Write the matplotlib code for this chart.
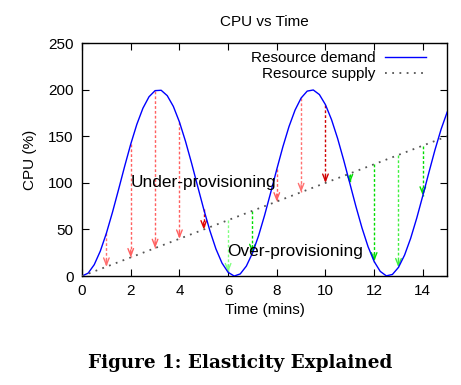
import matplotlib
matplotlib.use("Agg")
import matplotlib.pyplot as plt

time_fine = [i * 0.25 for i in range(61)]
demand = [0.0, 3.1, 12.2, 26.8, 46.0, 68.5, 92.9, 117.8, 141.6, 162.8,
          180.1, 192.4, 199.0, 199.4, 193.6, 182.1, 165.4, 144.6, 121.1, 96.2,
          71.6, 48.8, 29.1, 13.9, 4.0, 0.0, 2.3, 10.7, 24.6, 43.1,
          65.3, 89.6, 114.6, 138.7, 160.3, 178.1, 191.1, 198.5, 199.7, 194.8,
          183.9, 167.8, 147.6, 124.3, 99.6, 74.8, 51.7, 31.5, 15.6, 5.0,
          0.2, 1.7, 9.3, 22.5, 40.5, 62.2, 86.3, 111.2, 135.5, 157.5,
          176.0]

# supply line
time_supply = [0, 15]
supply = [0, 150]

# arrows at whole minutes: demand value and supply value
arrow_t = [1, 2, 3, 4, 5, 6, 7, 8, 9, 10, 11, 12, 13, 14]
arrow_demand = [46.0, 141.6, 199.0, 165.4, 71.6, 4.0, 24.6, 114.6, 191.1, 183.9,
                99.6, 15.6, 9.3, 86.3]
arrow_supply = [10, 20, 30, 40, 50, 60, 70, 80, 90, 100, 110, 120, 130, 140]
arrow_colors = ['#ff7070', '#ff6060', '#ff6060', '#ff6060', '#e00000',
                '#80ff80', '#00dd00', '#ff6060', '#ff7070', '#d00000',
                '#00dd00', '#00dd00', '#40f040', '#00dd00']

plt.rcParams['font.family'] = ['Liberation Sans', 'DejaVu Sans']

fig = plt.figure(figsize=(4.61, 3.85), dpi=100)
ax = fig.add_axes([0.178, 0.283, 0.792, 0.605])

# arrows: from demand to supply (under) or supply to demand (over)
for t, d, s, c in zip(arrow_t, arrow_demand, arrow_supply, arrow_colors):
    top = max(d, s)
    bottom = min(d, s)
    ax.plot([t, t], [top, bottom], color=c, lw=1, linestyle=(0, (2, 1.5)), zorder=2)
    ax.annotate('', xy=(t, bottom), xytext=(t, bottom + 8),
                arrowprops=dict(arrowstyle='->, head_width=0.2, head_length=0.5',
                                color=c, lw=1, shrinkA=0, shrinkB=0), zorder=2)

ax.plot(time_fine, demand, color='#0000ff', lw=1, label='Resource demand', zorder=3)
ax.plot(time_supply, supply, color='#555555', lw=1.3, linestyle=(0, (1, 3)),
        label='Resource supply', zorder=3)

ax.text(1.98, 100, 'Under-provisioning', fontsize=12.4, va='center', ha='left')
ax.text(5.95, 26, 'Over-provisioning', fontsize=12.4, va='center', ha='left')

ax.set_xlim(0, 15)
ax.set_ylim(0, 250)
ax.set_xticks(range(0, 15, 2))
ax.set_yticks(range(0, 251, 50))
ax.tick_params(direction='in', top=True, right=True, labelsize=11, length=5, pad=6)
for sp in ax.spines.values():
    sp.set_linewidth(1)

ax.set_title('CPU vs Time', fontsize=11, pad=12)
ax.set_xlabel('Time (mins)', fontsize=11, labelpad=3)
ax.set_ylabel('CPU (%)', fontsize=11, labelpad=8)

ax.legend(loc='upper right', bbox_to_anchor=(0.98, 1.025), frameon=False,
          markerfirst=False, fontsize=11, handlelength=2.7, labelspacing=0.15,
          handletextpad=0.6)

fig.text(0.52, 0.057, 'Figure 1: Elasticity Explained', family='DejaVu Serif',
         fontweight='bold', fontsize=13.2, ha='center', va='center')

fig.savefig('out.png', dpi=100)
